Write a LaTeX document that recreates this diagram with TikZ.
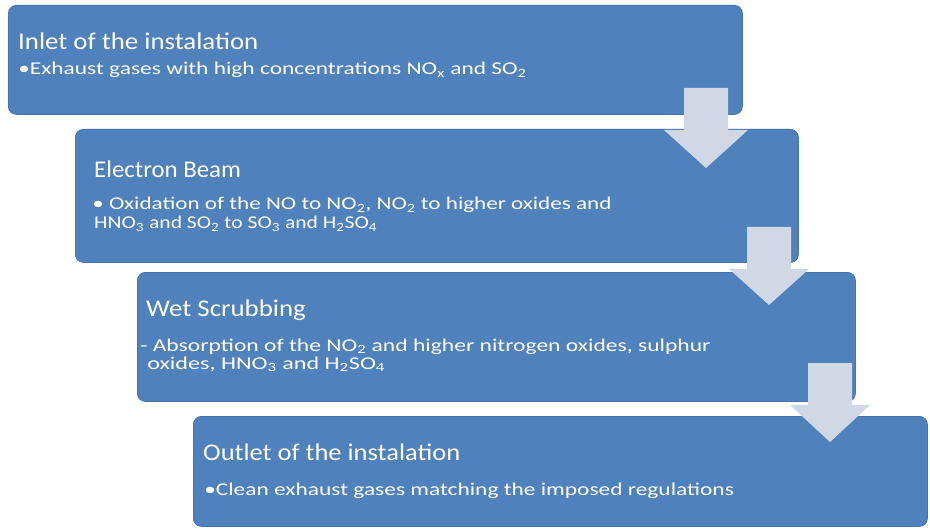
\documentclass[tikz,border=0pt]{standalone}
\usepackage{fontspec}
\setmainfont{Carlito}
\begin{document}
\begin{tikzpicture}[x=1pt,y=-1pt,
  stepbox/.style={draw=boxedge, line width=0.8pt, fill=boxblue, rounded corners=8pt, anchor=north west, inner sep=0pt},
  ttl/.style={anchor=base west, inner sep=0pt, text=white, font=\fontsize{24}{28}\selectfont, transform shape},
  bdy/.style={anchor=base west, inner sep=0pt, text=white, font=\fontsize{18}{20}\selectfont, transform shape},
  blockarrow/.style={fill=arrowgrey, draw=none}]
\definecolor{boxblue}{HTML}{4F81BD}
\definecolor{boxedge}{HTML}{4573AE}
\definecolor{arrowgrey}{HTML}{D0D7E5}
\useasboundingbox (0,0) rectangle (930,532);
\fill[white] (0,0) rectangle (930,532);
% boxes
\node[stepbox, minimum width=734pt, minimum height=109pt] (b1) at (8,5) {};
\node[stepbox, minimum width=723pt, minimum height=133pt] (b2) at (75,129) {};
\node[stepbox, minimum width=718pt, minimum height=129pt] (b3) at (137,272) {};
\node[stepbox, minimum width=734pt, minimum height=110pt] (b4) at (193,416) {};
% texts
\node[ttl, xscale=1.118] (t1) at (18,50) {Inlet of the instalation};
\node[bdy, xscale=1.30] (d1) at (18,75) {•Exhaust gases with high concentrations NO\textsubscript{x} and SO\textsubscript{2}};
\node[ttl, xscale=1.036] (t2) at (94,178) {Electron Beam};
\node[bdy, xscale=1.285] (d2a) at (92,210) {•\ Oxidation of the NO to NO\textsubscript{2}, NO\textsubscript{2} to higher oxides and};
\node[bdy, xscale=1.20] (d2b) at (94,229) {HNO\textsubscript{3} and SO\textsubscript{2} to SO\textsubscript{3} and H\textsubscript{2}SO\textsubscript{4}};
\node[ttl, xscale=1.12] (t3) at (146,316) {Wet Scrubbing};
\node[bdy, xscale=1.31] (d3a) at (140,351) {- Absorption of the NO\textsubscript{2} and higher nitrogen oxides, sulphur};
\node[bdy, xscale=1.34] (d3b) at (147,369) {oxides, HNO\textsubscript{3} and H\textsubscript{2}SO\textsubscript{4}};
\node[ttl, xscale=1.105] (t4) at (203,460) {Outlet of the instalation};
\node[bdy, xscale=1.30] (d4) at (204,495) {•Clean exhaust gases matching the imposed regulations};
% block arrows
\fill[blockarrow] (684,88) -- (728,88) -- (728,130) -- (748,130) -- (706,168) -- (664,130) -- (684,130) -- cycle;
\fill[blockarrow] (747,227) -- (791,227) -- (791,269) -- (809,269) -- (769,305) -- (729,269) -- (747,269) -- cycle;
\fill[blockarrow] (808,363) -- (852,363) -- (852,405) -- (870,405) -- (830,442) -- (790,405) -- (808,405) -- cycle;
\end{tikzpicture}
\end{document}
